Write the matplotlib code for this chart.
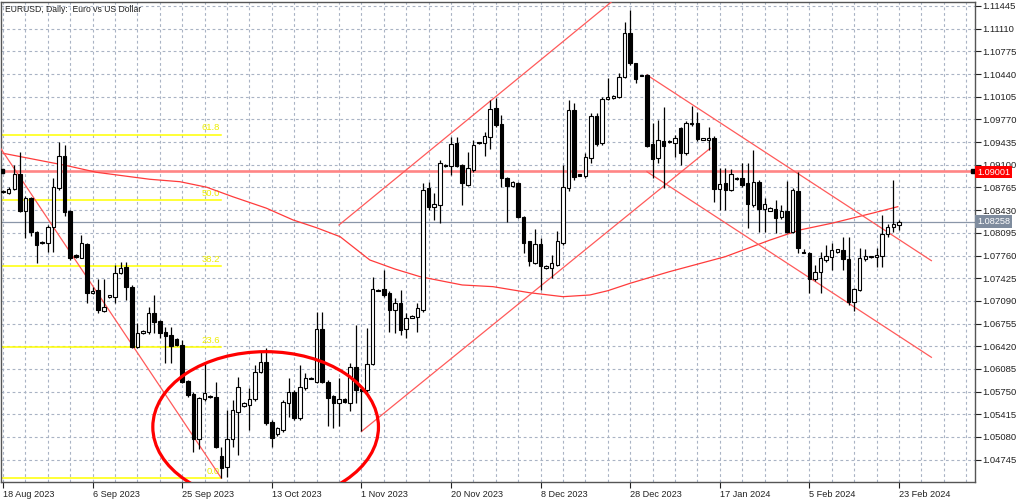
import matplotlib.pyplot as plt
from matplotlib.patches import Ellipse
import numpy as np

# EURUSD daily bars, 18 Aug 2023 .. 23 Feb 2024 (feed has small Sunday bars)
opens = [1.08694, 1.08679, 1.08738, 1.08960, 1.08423, 1.08605, 1.08104, 1.07961, 1.07951, 1.08187,
         1.08753, 1.09235, 1.08423, 1.07769, 1.07730, 1.07931, 1.07213, 1.07252, 1.06942, 1.07144,
         1.07144, 1.07498, 1.07597, 1.07302, 1.06416, 1.06613, 1.06637, 1.06907, 1.06799, 1.06637,
         1.06586, 1.06527, 1.06440, 1.05908, 1.05712, 1.05047, 1.05643, 1.05692, 1.05677, 1.04792,
         1.04644, 1.05052, 1.05456, 1.05539, 1.05554, 1.05643, 1.06046, 1.06194, 1.05308, 1.05121,
         1.05185, 1.05579, 1.05751, 1.05357, 1.05801, 1.05958, 1.05899, 1.06672, 1.05899, 1.05678,
         1.05589, 1.05644, 1.05589, 1.06111, 1.05791, 1.05776, 1.06160, 1.07252, 1.07262, 1.07203,
         1.06957, 1.07056, 1.06672, 1.06844, 1.06849, 1.06957, 1.08753, 1.08482, 1.08507, 1.09097,
         1.09083, 1.09418, 1.09099, 1.08803, 1.09025, 1.09430, 1.09418, 1.09517, 1.09935, 1.09704,
         1.08902, 1.08789, 1.08838, 1.08336, 1.07967, 1.07647, 1.07933, 1.07573, 1.07573, 1.07623,
         1.07952, 1.08754, 1.09910, 1.08960, 1.08936, 1.09197, 1.09822, 1.09418, 1.10068, 1.10083,
         1.10107, 1.10402, 1.11042, 1.10599, 1.10420, 1.10427, 1.09409, 1.09197, 1.09458, 1.09450,
         1.09428, 1.09640, 1.09271, 1.09704, 1.09714, 1.09470, 1.09468, 1.09492, 1.08739, 1.08828,
         1.08730, 1.08910, 1.08912, 1.08828, 1.08506, 1.08851, 1.08442, 1.08423, 1.08442, 1.08324,
         1.08423, 1.08113, 1.08718, 1.07818, 1.07793, 1.07409, 1.07522, 1.07694, 1.07744, 1.07818,
         1.07842, 1.07705, 1.07079, 1.07252, 1.07705, 1.07732, 1.07734, 1.07754, 1.08078, 1.08177,
         1.08211]
highs = [1.08728, 1.08768, 1.09097, 1.09284, 1.08640, 1.08630, 1.08123, 1.07970, 1.08212, 1.08901,
         1.09432, 1.09393, 1.08433, 1.07780, 1.08064, 1.07940, 1.07300, 1.07415, 1.07415, 1.07180,
         1.07621, 1.07671, 1.07661, 1.07326, 1.06760, 1.06660, 1.07006, 1.07178, 1.06810, 1.06700,
         1.06710, 1.06535, 1.06514, 1.05923, 1.05751, 1.05677, 1.06169, 1.05700, 1.05899, 1.04939,
         1.05480, 1.05628, 1.05972, 1.05590, 1.05800, 1.06145, 1.06341, 1.06390, 1.05330, 1.05230,
         1.05628, 1.05948, 1.05770, 1.06145, 1.06032, 1.05970, 1.06933, 1.06933, 1.05920, 1.05700,
         1.05949, 1.05660, 1.06170, 1.06736, 1.05800, 1.06687, 1.07450, 1.07260, 1.07548, 1.07230,
         1.07130, 1.07252, 1.06908, 1.06880, 1.07056, 1.08827, 1.08851, 1.08679, 1.09171, 1.09110,
         1.09506, 1.09517, 1.09110, 1.09295, 1.09468, 1.09440, 1.09591, 1.10058, 1.10083, 1.09837,
         1.08920, 1.08860, 1.08850, 1.08340, 1.07980, 1.08149, 1.08016, 1.07620, 1.07770, 1.08115,
         1.09099, 1.10058, 1.10009, 1.08970, 1.09270, 1.09861, 1.09860, 1.10107, 1.10378, 1.10130,
         1.10461, 1.11214, 1.11386, 1.10610, 1.10430, 1.10440, 1.09714, 1.09763, 1.09960, 1.09460,
         1.09541, 1.09664, 1.09740, 1.09970, 1.09886, 1.09500, 1.09664, 1.09520, 1.09050, 1.09050,
         1.09035, 1.08920, 1.09123, 1.09123, 1.09318, 1.08870, 1.08605, 1.08470, 1.08580, 1.08506,
         1.08866, 1.08752, 1.08999, 1.07860, 1.07810, 1.07620, 1.07818, 1.07916, 1.07941, 1.07860,
         1.08039, 1.08039, 1.07280, 1.07867, 1.07850, 1.07760, 1.07867, 1.08359, 1.08226, 1.08875,
         1.08286]
lows = [1.08680, 1.08664, 1.08723, 1.08409, 1.08015, 1.08050, 1.07646, 1.07930, 1.07808, 1.07808,
        1.08728, 1.08345, 1.07695, 1.07730, 1.07720, 1.07056, 1.07190, 1.06908, 1.06933, 1.07130,
        1.07065, 1.07489, 1.07105, 1.06391, 1.06391, 1.06600, 1.06603, 1.06612, 1.06538, 1.06169,
        1.06169, 1.06425, 1.05874, 1.05677, 1.04865, 1.04900, 1.05618, 1.05660, 1.04915, 1.04470,
        1.04490, 1.04939, 1.04816, 1.05530, 1.05185, 1.05618, 1.06020, 1.05259, 1.04939, 1.05100,
        1.05160, 1.05382, 1.05330, 1.05330, 1.05776, 1.05930, 1.05875, 1.05875, 1.05235, 1.05211,
        1.05235, 1.05580, 1.05457, 1.05580, 1.05161, 1.05750, 1.06145, 1.07230, 1.07150, 1.06637,
        1.06613, 1.06588, 1.06539, 1.06830, 1.06637, 1.06930, 1.08430, 1.08286, 1.08246, 1.09070,
        1.08950, 1.09074, 1.08508, 1.08780, 1.09000, 1.09410, 1.09231, 1.09330, 1.09660, 1.08779,
        1.08262, 1.08770, 1.08320, 1.07795, 1.07598, 1.07630, 1.07254, 1.07560, 1.07426, 1.07600,
        1.07920, 1.08720, 1.08877, 1.08930, 1.08910, 1.09123, 1.09384, 1.09390, 1.10050, 1.10070,
        1.10080, 1.10380, 1.10580, 1.10314, 1.10405, 1.09360, 1.08902, 1.09123, 1.08754, 1.09420,
        1.09222, 1.09099, 1.09250, 1.09680, 1.09450, 1.09460, 1.09320, 1.08557, 1.08425, 1.08425,
        1.08710, 1.08880, 1.08770, 1.08164, 1.08480, 1.08113, 1.08113, 1.08410, 1.08088, 1.08300,
        1.08088, 1.08090, 1.07793, 1.07790, 1.07212, 1.07390, 1.07212, 1.07660, 1.07547, 1.07800,
        1.07547, 1.07030, 1.06947, 1.07230, 1.07680, 1.07720, 1.07596, 1.07596, 1.08040, 1.08113,
        1.08130]
closes = [1.08712, 1.08748, 1.08960, 1.08423, 1.08605, 1.08104, 1.07917, 1.07941, 1.08187, 1.08778,
          1.09235, 1.08409, 1.07720, 1.07735, 1.07941, 1.07213, 1.07233, 1.06957, 1.07006, 1.07174,
          1.07498, 1.07582, 1.07292, 1.06416, 1.06623, 1.06647, 1.06918, 1.06785, 1.06612, 1.06573,
          1.06424, 1.06440, 1.05899, 1.05702, 1.05047, 1.05653, 1.05726, 1.05667, 1.04939, 1.04619,
          1.05052, 1.05480, 1.05825, 1.05579, 1.05643, 1.06046, 1.06194, 1.05284, 1.05062, 1.05209,
          1.05603, 1.05751, 1.05357, 1.05825, 1.05949, 1.05939, 1.06672, 1.05899, 1.05654, 1.05589,
          1.05644, 1.05604, 1.06111, 1.05776, 1.05752, 1.06160, 1.07267, 1.07238, 1.07179, 1.06957,
          1.07056, 1.06662, 1.06834, 1.06869, 1.06982, 1.08728, 1.08473, 1.08522, 1.09122, 1.09080,
          1.09402, 1.09089, 1.08838, 1.09049, 1.09394, 1.09420, 1.09527, 1.09920, 1.09689, 1.08902,
          1.08789, 1.08843, 1.08336, 1.07952, 1.07672, 1.07928, 1.07608, 1.07608, 1.07647, 1.07967,
          1.08769, 1.09910, 1.08926, 1.08940, 1.09212, 1.09822, 1.09409, 1.10068, 1.10107, 1.10122,
          1.10402, 1.11042, 1.10599, 1.10368, 1.10410, 1.09384, 1.09182, 1.09468, 1.09379, 1.09430,
          1.09492, 1.09271, 1.09714, 1.09723, 1.09477, 1.09490, 1.09492, 1.08739, 1.08818, 1.08730,
          1.08961, 1.08890, 1.08803, 1.08523, 1.08851, 1.08442, 1.08521, 1.08457, 1.08309, 1.08423,
          1.08113, 1.08728, 1.07867, 1.07793, 1.07409, 1.07522, 1.07719, 1.07754, 1.07842, 1.07852,
          1.07705, 1.07079, 1.07262, 1.07719, 1.07754, 1.07750, 1.07768, 1.08078, 1.08177, 1.08226,
          1.08258]

date_labels = ['18 Aug 2023', '6 Sep 2023', '25 Sep 2023', '13 Oct 2023', '1 Nov 2023',
               '20 Nov 2023', '8 Dec 2023', '28 Dec 2023', '17 Jan 2024', '5 Feb 2024',
               '23 Feb 2024']
label_step = 16   # bars between date labels
grid_step = 4     # bars between vertical grid lines

# moving average, read at a few bars
ma_idx = [0, 11.4, 16.7, 26.2, 31.6, 36.4, 41, 47, 51.8, 56, 60.2, 65.5, 70, 74.5, 82, 87.5,
          94, 100, 104.8, 108, 112, 119, 129, 137, 142.3, 148.2, 155.4, 159.8]
ma_val = [1.09270, 1.09087, 1.08989, 1.08886, 1.08850, 1.08768, 1.08629, 1.08460, 1.08285,
          1.08170, 1.08038, 1.07694, 1.07560, 1.07447, 1.07325, 1.07300, 1.07211, 1.07152,
          1.07177, 1.07240, 1.07350, 1.07521, 1.07743, 1.07989, 1.08137, 1.08240, 1.08388,
          1.08481]

# fibonacci retracement (swing high is off the chart)
fib_low = 1.04470
fib_high = 1.12685
fib_levels = [0.0, 23.6, 38.2, 50.0, 61.8]
fib_end = 39

level_line = 1.09001
bid = 1.08258

# trend lines: (bar, price) anchors
trend_lines = [((-0.4, 1.09340), (39, 1.04470)),
               ((60, 1.08211), (110, 1.11596)),
               ((64, 1.05161), (126.3, 1.09343)),
               ((115, 1.10426), (165.8, 1.07684)),
               ((115, 1.08998), (165.8, 1.06257))]

# circled base
circle_c = (46.9, 1.05228)
circle_w = 40.3
circle_h = 0.02224

price_ticks = [1.04745 + 0.00335 * k for k in range(21)]

plt.rcParams['font.family'] = ['Liberation Sans', 'DejaVu Sans']

fig = plt.figure(figsize=(10.24, 4.99), dpi=100)
ax = fig.add_axes([0.001, 0.0335, 0.9512, 0.9625])
ax.set_xlim(-0.36, 173.6)
ax.set_ylim(1.04411, 1.11504)

# grid
ax.set_xticks(np.arange(0, 174, grid_step), minor=True)
ax.set_yticks(price_ticks)
ax.set_yticklabels(['%.5f' % p for p in price_ticks])
ax.grid(True, which='both', axis='x', color='#a9b3c4', linestyle=(0, (2.5, 2.5)), linewidth=0.8)
ax.grid(True, which='major', axis='y', color='#a9b3c4', linestyle=(0, (2.5, 2.5)), linewidth=0.8)
ax.set_axisbelow(True)

ax.yaxis.tick_right()
ax.tick_params(axis='y', which='major', length=4, width=0.8, pad=1.5, labelsize=6.8,
               colors='#222222')
ax.tick_params(axis='x', which='major', length=4, width=0.8, pad=1.5, labelsize=6.6,
               colors='#222222')
ax.tick_params(axis='x', which='minor', length=0)
ax.set_xticks(np.arange(len(date_labels)) * label_step)
ax.set_xticklabels(date_labels, ha='left')
for s in ax.spines.values():
    s.set_color('#555555')
    s.set_linewidth(1.0)

# fibonacci levels
for lv in fib_levels:
    p = fib_low + lv / 100.0 * (fib_high - fib_low)
    ax.plot([-0.36, fib_end], [p, p], color='#ffff00', linewidth=1.1, zorder=2)
    ax.text(fib_end - 0.3, p + 0.0003, '%.1f' % lv, color='#eeee00', fontsize=6.8,
            ha='right', va='bottom', zorder=2)

# horizontal level and bid line
ax.axhline(level_line, color='#ff8585', linewidth=1.9, zorder=2)
ax.plot([-0.2, 173.2], [level_line, level_line], 's', color='black', markersize=2.5, zorder=6)
ax.axhline(bid, color='#8a96a8', linewidth=0.9, zorder=2)

# moving average
ax.plot(ma_idx, ma_val, color='#ff3b3b', linewidth=0.9, zorder=3)

# trend lines
for (x1, y1), (x2, y2) in trend_lines:
    ax.plot([x1, x2], [y1, y2], color='#ff5a5a', linewidth=0.9, zorder=3)

# candles
x = np.arange(len(opens))
o = np.array(opens)
h = np.array(highs)
l = np.array(lows)
c = np.array(closes)
up = c >= o
ax.vlines(x, l, h, color='black', linewidth=0.9, zorder=4)
body_lo = np.minimum(o, c)
body_h = np.maximum(np.abs(c - o), 0.00004)
ax.bar(x[up], body_h[up], bottom=body_lo[up], width=0.62, color='white',
       edgecolor='black', linewidth=0.8, zorder=5)
ax.bar(x[~up], body_h[~up], bottom=body_lo[~up], width=0.62, color='black',
       edgecolor='black', linewidth=0.8, zorder=5)

# ellipse round the base
ax.add_patch(Ellipse(circle_c, circle_w, circle_h, fill=False, edgecolor='#ff0000',
                     linewidth=2.3, zorder=6))

ax.text(0.004, 0.993, 'EURUSD, Daily:  Euro vs US Dollar', transform=ax.transAxes,
        fontsize=6.2, color='#222222', va='top', ha='left')

# price tags on the right scale
ytr = ax.get_yaxis_transform()
ax.text(1.002, level_line - 0.0001, '%.5f' % level_line, transform=ytr, fontsize=6.6,
        color='white', va='center', ha='left', zorder=10,
        bbox=dict(boxstyle='square,pad=0.2', fc='#ff0000', ec='none'))
ax.text(1.002, bid, '%.5f' % bid, transform=ytr, fontsize=6.6, color='white',
        va='center', ha='left', zorder=10,
        bbox=dict(boxstyle='square,pad=0.2', fc='#7f8c9e', ec='none'))

fig.savefig('out.png', dpi=100)
